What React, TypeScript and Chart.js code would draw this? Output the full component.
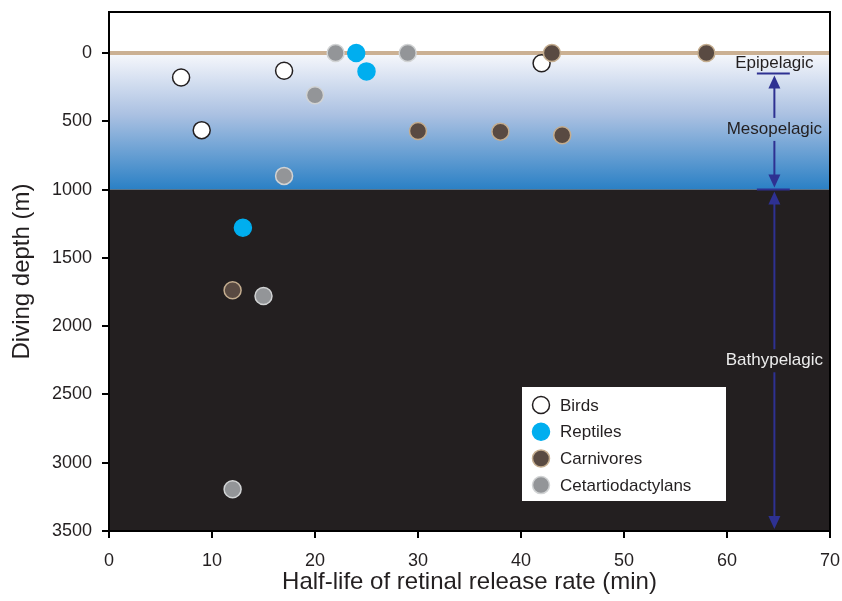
import React, { useEffect, useRef } from 'react';
import { Chart, registerables } from 'chart.js';

Chart.register(...registerables);

// ---- data ----
const seriesNames = ['Birds', 'Reptiles', 'Carnivores', 'Cetartiodactylans'];
const birdsX = [7, 9, 17, 42];
const birdsY = [180, 565, 130, 75];
const reptilesX = [24, 25, 13];
const reptilesY = [0, 135, 1280];
const carnivoresX = [43, 58, 30, 38, 44, 12];
const carnivoresY = [0, 0, 571, 576, 603, 1737];
const cetartX = [22, 29, 20, 17, 15, 12];
const cetartY = [0, 0, 310, 900, 1779, 3194];

const xTicks = [0, 10, 20, 30, 40, 50, 60, 70];
const yTicks = [0, 500, 1000, 1500, 2000, 2500, 3000, 3500];

const zoneNames = ['Epipelagic', 'Mesopelagic', 'Bathypelagic'];
const zoneLabelDepth = [75, 556, 2250];
const zoneBoundaries = [150, 1000];
const zoneMarkerX = 64.6;
const zoneBarX = [62.9, 66.1];
const surfaceDepth = 0;
const lightZoneBottom = 1000;
const deepestDepth = 3500;

const FONT = "'Liberation Sans', Arial, Helvetica, sans-serif";
const ARROW = '#2e3192';

const toPts = (xs: number[], ys: number[]) => xs.map((x, i) => ({ x, y: ys[i] }));

const styles = [
  { bg: '#ffffff', border: '#231f20', order: 4 },
  { bg: '#00aeef', border: '#00aeef', order: 3 },
  { bg: '#594a42', border: '#c4ad8f', order: 1 },
  { bg: '#939598', border: '#d1d3d4', order: 2 },
];
const seriesData = [
  toPts(birdsX, birdsY),
  toPts(reptilesX, reptilesY),
  toPts(carnivoresX, carnivoresY),
  toPts(cetartX, cetartY),
];

const bgPlugin = {
  id: 'oceanBg',
  beforeDraw(chart: any) {
    const { ctx, chartArea: a, scales } = chart;
    const y = scales.y;
    const y0 = y.getPixelForValue(surfaceDepth);
    const y1 = y.getPixelForValue(lightZoneBottom);
    ctx.save();
    ctx.fillStyle = '#ffffff';
    ctx.fillRect(a.left, a.top, a.width, y0 - a.top);
    const g = ctx.createLinearGradient(0, y0, 0, y1);
    g.addColorStop(0, '#f7f8fc');
    g.addColorStop(0.45, '#abc1e2');
    g.addColorStop(1, '#2a80c5');
    ctx.fillStyle = g;
    ctx.fillRect(a.left, y0, a.width, y1 - y0);
    ctx.fillStyle = '#231f20';
    ctx.fillRect(a.left, y1, a.width, a.bottom - y1);
    ctx.strokeStyle = '#cbb093';
    ctx.lineWidth = 4;
    ctx.beginPath();
    ctx.moveTo(a.left, y0);
    ctx.lineTo(a.right, y0);
    ctx.stroke();
    ctx.restore();
  },
};

function head(ctx: CanvasRenderingContext2D, x: number, tip: number, dir: number) {
  ctx.beginPath();
  ctx.moveTo(x, tip);
  ctx.lineTo(x - 6, tip - dir * 13);
  ctx.lineTo(x + 6, tip - dir * 13);
  ctx.closePath();
  ctx.fill();
}

function vline(ctx: CanvasRenderingContext2D, x: number, a: number, b: number) {
  ctx.beginPath();
  ctx.moveTo(x, a);
  ctx.lineTo(x, b);
  ctx.stroke();
}

const overlayPlugin = {
  id: 'overlay',
  afterDatasetsDraw(chart: any) {
    const { ctx, chartArea: a, scales } = chart;
    const xs = scales.x;
    const ys = scales.y;
    ctx.save();
    // frame top/right
    ctx.strokeStyle = '#000';
    ctx.lineWidth = 2;
    ctx.beginPath();
    ctx.moveTo(a.left, a.top);
    ctx.lineTo(a.right, a.top);
    ctx.lineTo(a.right, a.bottom);
    ctx.stroke();

    // zone annotations
    const ax = xs.getPixelForValue(zoneMarkerX);
    const bx0 = xs.getPixelForValue(zoneBarX[0]);
    const bx1 = xs.getPixelForValue(zoneBarX[1]);
    ctx.strokeStyle = ARROW;
    ctx.fillStyle = ARROW;
    ctx.lineWidth = 2;
    zoneBoundaries.forEach((d) => {
      const py = ys.getPixelForValue(d);
      ctx.beginPath();
      ctx.moveTo(bx0, py);
      ctx.lineTo(bx1, py);
      ctx.stroke();
    });
    const bTop = ys.getPixelForValue(zoneBoundaries[0]);
    const bMid = ys.getPixelForValue(zoneBoundaries[1]);
    const bBot = ys.getPixelForValue(deepestDepth);
    const mesoY = ys.getPixelForValue(zoneLabelDepth[1]);
    const bathyY = ys.getPixelForValue(zoneLabelDepth[2]);
    // arrow 1
    head(ctx, ax, bTop + 2, -1);
    head(ctx, ax, bMid - 2, 1);
    vline(ctx, ax, bTop + 12, mesoY - 11);
    vline(ctx, ax, mesoY + 12, bMid - 12);
    // arrow 2
    head(ctx, ax, bMid + 2, -1);
    head(ctx, ax, bBot - 2, 1);
    vline(ctx, ax, bMid + 12, bathyY - 11);
    vline(ctx, ax, bathyY + 12, bBot - 12);

    ctx.font = `17px ${FONT}`;
    ctx.textAlign = 'center';
    ctx.textBaseline = 'middle';
    ctx.fillStyle = '#231f20';
    ctx.fillText(zoneNames[0], ax, ys.getPixelForValue(zoneLabelDepth[0]));
    ctx.fillText(zoneNames[1], ax, mesoY);
    ctx.fillStyle = '#ececec';
    ctx.fillText(zoneNames[2], ax, bathyY);

    // legend
    const lx = a.left + 413;
    const ly = a.top + 375;
    const lw = 204;
    const lh = 114;
    ctx.fillStyle = '#ffffff';
    ctx.fillRect(lx, ly, lw, lh);
    ctx.font = `17px ${FONT}`;
    ctx.textAlign = 'left';
    chart.data.datasets.forEach((ds: any, i: number) => {
      const cy = ly + 18 + i * 26.7;
      const cx = lx + 19;
      ctx.beginPath();
      ctx.arc(cx, cy, 8.5, 0, Math.PI * 2);
      ctx.fillStyle = ds.backgroundColor;
      ctx.fill();
      ctx.lineWidth = 1.5;
      ctx.strokeStyle = ds.borderColor;
      ctx.stroke();
      ctx.fillStyle = '#231f20';
      ctx.fillText(ds.label, lx + 38, cy + 1);
    });
    ctx.restore();
  },
};

export default function App() {
  const ref = useRef<HTMLCanvasElement>(null);
  useEffect(() => {
    document.body.style.margin = '0';
    const canvas = ref.current!;
    const chart = new Chart(canvas, {
      type: 'scatter',
      data: {
        datasets: seriesNames.map((name, i) => ({
          label: name,
          data: seriesData[i],
          backgroundColor: styles[i].bg,
          borderColor: styles[i].border,
          borderWidth: 1.5,
          pointRadius: 8.5,
          pointHoverRadius: 8.5,
          order: styles[i].order,
        })),
      },
      options: {
        animation: false,
        responsive: false,
        devicePixelRatio: 1,
        layout: { padding: { top: 12, right: 12, left: 0, bottom: 0 } },
        plugins: { legend: { display: false }, tooltip: { enabled: false } },
        scales: {
          x: {
            type: 'linear',
            min: 0,
            max: 70,
            afterBuildTicks: (axis: any) => {
              axis.ticks = xTicks.map((v) => ({ value: v }));
            },
            afterFit: (axis: any) => {
              axis.height = 70;
              axis.paddingLeft = 0;
              axis.paddingRight = 0;
            },
            ticks: {
              font: { size: 18, family: FONT },
              color: '#231f20',
              padding: 12,
              callback: (v: any) => String(v),
            },
            grid: { drawOnChartArea: false, drawTicks: true, tickLength: 7, color: '#000', lineWidth: 2 },
            border: { display: true, color: '#000', width: 2 },
            title: {
              display: true,
              text: 'Half-life of retinal release rate (min)',
              font: { size: 24, family: FONT },
              color: '#231f20',
              padding: { top: 0, bottom: 4 },
            },
          },
          y: {
            type: 'linear',
            reverse: true,
            min: -300,
            max: 3500,
            afterBuildTicks: (axis: any) => {
              axis.ticks = yTicks.map((v) => ({ value: v }));
            },
            afterFit: (axis: any) => {
              axis.width = 109;
              axis.paddingTop = 0;
              axis.paddingBottom = 0;
            },
            ticks: {
              font: { size: 18, family: FONT },
              color: '#231f20',
              padding: 10,
              callback: (v: any) => String(v),
            },
            grid: { drawOnChartArea: false, drawTicks: true, tickLength: 7, color: '#000', lineWidth: 2 },
            border: { display: true, color: '#000', width: 2 },
            title: {
              display: true,
              text: 'Diving depth (m)',
              font: { size: 24, family: FONT },
              color: '#231f20',
              padding: { top: 8, bottom: 0 },
            },
          },
        },
      },
      plugins: [bgPlugin, overlayPlugin],
    } as any);
    return () => chart.destroy();
  }, []);
  return (
    <div style={{ width: 842, height: 601 }}>
      <canvas ref={ref} width={842} height={601} style={{ display: 'block', width: 842, height: 601 }} />
    </div>
  );
}
